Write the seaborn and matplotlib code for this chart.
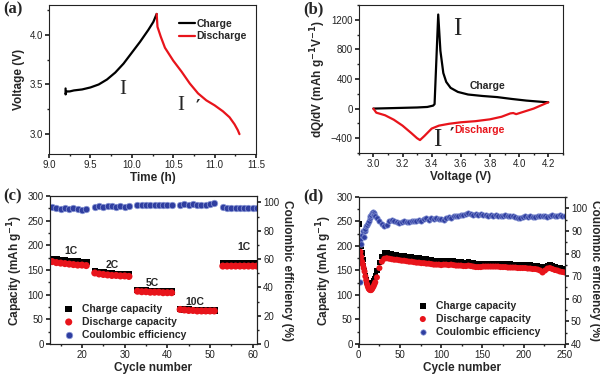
import numpy as np
import pandas as pd
import matplotlib
matplotlib.use("Agg")
import matplotlib.pyplot as plt
from matplotlib.ticker import MultipleLocator
import seaborn as sns

# (a) charge / discharge profile
a_charge_t = [9.20, 9.20, 9.21, 9.25, 9.30, 9.40, 9.50, 9.60, 9.70, 9.80, 9.90, 10.00, 10.10, 10.20, 10.26, 10.30]
a_charge_v = [3.46, 3.40, 3.43, 3.43, 3.44, 3.45, 3.47, 3.50, 3.55, 3.62, 3.71, 3.82, 3.93, 4.05, 4.13, 4.21]
a_dis_t = [10.30, 10.31, 10.35, 10.40, 10.50, 10.60, 10.70, 10.80, 10.90, 11.00, 11.10, 11.18, 11.24, 11.28, 11.30]
a_dis_v = [4.21, 4.08, 3.98, 3.87, 3.74, 3.63, 3.51, 3.41, 3.34, 3.29, 3.23, 3.17, 3.10, 3.04, 3.00]

# (b) dQ/dV
b_charge_x = [3.00, 3.10, 3.20, 3.30, 3.37, 3.41, 3.42, 3.445, 3.46, 3.48, 3.50, 3.53, 3.58, 3.65, 3.75, 3.85, 3.95, 4.05, 4.15, 4.20]
b_charge_y = [0, 5, 10, 15, 22, 40, 60, 1270, 780, 480, 360, 280, 225, 190, 170, 155, 130, 108, 92, 85]
b_dis_x = [3.00, 3.02, 3.08, 3.14, 3.20, 3.26, 3.30, 3.32, 3.35, 3.40, 3.45, 3.52, 3.60, 3.70, 3.80, 3.88, 3.94, 3.96, 3.98, 4.02, 4.10, 4.20]
b_dis_y = [0, -55, -90, -150, -230, -330, -400, -425, -370, -270, -230, -205, -185, -170, -145, -110, -65, -60, -75, -50, 0, 85]

# (c) rate capability
c_cycles = (list(range(13, 22)) + list(range(23, 32)) + list(range(33, 42))
            + list(range(43, 52)) + list(range(53, 62)))
c_charge = [172, 171, 170, 169, 168, 167, 167, 166, 166,
            148, 146, 145, 144, 143, 142, 142, 141, 141,
            109, 108, 108, 107, 107, 107, 106, 106, 106,
            71, 70, 70, 69, 69, 69, 68, 68, 68,
            163, 163, 163, 163, 163, 163, 163, 163, 163]
c_discharge = [167, 165, 164, 163, 162, 161, 160, 160, 159,
               144, 142, 141, 140, 139, 139, 138, 138, 137,
               107, 106, 106, 105, 105, 105, 104, 104, 104,
               70, 69, 68, 68, 67, 67, 67, 67, 67,
               158, 158, 158, 158, 158, 158, 158, 158, 158]
c_ce = [96.5, 96.3, 95.2, 96.0, 95.4, 95.8, 95.0, 94.8, 95.2,
        97.0, 97.2, 96.8, 97.3, 97.4, 97.0, 97.2, 96.8, 97.1,
        98.0, 98.1, 98.2, 98.0, 98.3, 98.1, 97.8, 98.2, 97.9,
        98.4, 98.6, 98.2, 98.8, 98.5, 97.9, 98.4, 98.9, 99.8,
        96.4, 96.1, 96.2, 96.0, 96.3, 96.1, 96.2, 96.0, 96.2]
c_rate_labels = ["1C", "2C", "5C", "10C", "1C"]
c_rate_x = [17.5, 27, 36.5, 46.5, 58]
c_rate_y = [189, 160, 123, 86, 196]

# (d) long cycling
d_cycles = list(range(1, 21)) + list(range(22, 251, 3))
d_charge = [245, 215, 200, 186, 172, 160, 150, 140, 132, 126, 121, 118, 117, 117, 118, 121, 125, 129, 134, 139,
            150, 166, 179, 186, 187, 185, 184, 183, 182, 181, 180, 180, 179, 178, 178, 177, 176, 176, 175, 174,
            174, 173, 172, 171, 171, 170, 170, 170, 170, 169, 170, 169, 168, 167, 167, 166, 166, 167, 166, 165,
            164, 164, 163, 163, 164, 164, 164, 164, 164, 164, 163, 163, 163, 163, 163, 162, 162, 162, 161, 161,
            161, 161, 161, 160, 160, 159, 158, 155, 157, 160, 161, 159, 157, 156, 155, 154, 152]
d_discharge = [185, 188, 178, 168, 162, 155, 148, 138, 130, 122, 117, 113, 111, 110, 110, 112, 115, 118, 122, 126,
               136, 155, 168, 174, 175, 174, 173, 172, 172, 171, 170, 170, 169, 168, 168, 167, 166, 166, 165, 165,
               164, 164, 163, 162, 162, 162, 161, 162, 162, 161, 162, 161, 160, 160, 160, 159, 159, 160, 159, 158,
               157, 157, 157, 158, 158, 158, 158, 158, 158, 158, 157, 157, 157, 156, 156, 156, 156, 155, 155, 155,
               155, 154, 154, 153, 153, 152, 150, 146, 150, 154, 155, 153, 151, 150, 148, 147, 146]
d_ce = [67.5, 86.0, 84.0, 88.0, 90.0, 87.5, 90.0, 91.0, 92.0, 92.5, 93.5, 94.5, 95.5, 96.5, 97.2, 97.8, 98.2, 97.8, 97.2, 96.6,
        95.6, 94.5, 93.2, 92.2, 92.6, 94.2, 95.0, 94.6, 94.0, 93.6, 93.9, 94.4, 93.8, 94.1, 94.6, 94.2, 94.5, 95.0, 94.6, 95.1,
        95.5, 95.0, 95.6, 95.2, 95.7, 95.1, 95.3, 95.0, 95.6, 96.0, 95.8, 96.4, 96.6, 96.8, 97.0, 97.2, 97.4, 97.9, 97.3, 97.1,
        97.5, 97.0, 97.3, 96.9, 97.1, 96.8, 97.0, 96.7, 96.9, 96.6, 96.8, 96.5, 96.9, 96.6, 96.4, 96.7, 96.2, 95.8, 95.6, 96.0,
        96.5, 96.2, 96.6, 96.3, 96.0, 96.5, 96.8, 96.4, 96.7, 96.3, 96.6, 96.9, 96.5, 96.8, 97.0, 96.6, 96.4]

sns.set_theme(style="ticks")
plt.rcParams["font.family"] = ["Liberation Sans", "DejaVu Sans"]
plt.rcParams["axes.linewidth"] = 0.8
plt.rcParams["xtick.direction"] = "out"
plt.rcParams["ytick.direction"] = "out"
plt.rcParams["xtick.major.size"] = 3
plt.rcParams["ytick.major.size"] = 3
plt.rcParams["xtick.minor.size"] = 1.6
plt.rcParams["ytick.minor.size"] = 1.6
plt.rcParams["xtick.labelsize"] = 7
plt.rcParams["ytick.labelsize"] = 7

RED = "#e8141b"
BLUE = "#2f3ea0"
SERIF = ["Liberation Serif", "DejaVu Serif"]

fig = plt.figure(figsize=(6, 3.76), dpi=100)
ax_a = fig.add_axes([0.0817, 0.5904, 0.345, 0.3963])
ax_b = fig.add_axes([0.598, 0.593, 0.34, 0.394])
ax_c = fig.add_axes([0.0833, 0.0851, 0.345, 0.3936])
ax_d = fig.add_axes([0.598, 0.0851, 0.3433, 0.391])


def style_ax(ax):
    for s in ax.spines.values():
        s.set_color("#222222")
    ax.tick_params(which="both", colors="#222222", pad=1.5)
    ax.tick_params(which="both", top=False, right=False)


# ---- (a)
da = pd.DataFrame({"t": a_charge_t, "v": a_charge_v})
dd = pd.DataFrame({"t": a_dis_t, "v": a_dis_v})
sns.lineplot(data=da, x="t", y="v", sort=False, estimator=None, color="black", lw=1.6, ax=ax_a, label="Charge")
sns.lineplot(data=dd, x="t", y="v", sort=False, estimator=None, color=RED, lw=1.6, ax=ax_a, label="Discharge")
ax_a.set_xlim(9.0, 11.5)
ax_a.set_ylim(2.8, 4.3)
ax_a.xaxis.set_major_locator(MultipleLocator(0.5))
ax_a.xaxis.set_minor_locator(MultipleLocator(0.25))
ax_a.yaxis.set_major_locator(MultipleLocator(0.5))
ax_a.yaxis.set_minor_locator(MultipleLocator(0.25))
ax_a.set_xlabel("Time (h)", fontsize=8.5, fontweight="bold", labelpad=1)
ax_a.set_ylabel("Voltage (V)", fontsize=8.5, fontweight="bold", labelpad=3)
ax_a.legend(loc="upper right", frameon=False, handlelength=1.6, handletextpad=0.1,
            labelspacing=0.25, prop={"weight": "bold", "size": 7.5}, bbox_to_anchor=(1.0, 0.97))
ax_a.text(9.89, 3.45, "I", family=SERIF, fontsize=15, ha="center", va="center")
ax_a.text(10.59, 3.29, "I", family=SERIF, fontsize=15, ha="center", va="center")
ax_a.text(10.80, 3.37, "\u2032", family=["DejaVu Sans"], fontsize=12, fontweight="bold", ha="center", va="top")
style_ax(ax_a)

# ---- (b)
dbc = pd.DataFrame({"x": b_charge_x, "y": b_charge_y})
dbd = pd.DataFrame({"x": b_dis_x, "y": b_dis_y})
sns.lineplot(data=dbc, x="x", y="y", sort=False, estimator=None, color="black", lw=1.6, ax=ax_b)
sns.lineplot(data=dbd, x="x", y="y", sort=False, estimator=None, color=RED, lw=1.6, ax=ax_b)
ax_b.set_xlim(2.9, 4.3)
ax_b.set_ylim(-600, 1400)
ax_b.xaxis.set_major_locator(MultipleLocator(0.2))
ax_b.xaxis.set_minor_locator(MultipleLocator(0.1))
ax_b.yaxis.set_major_locator(MultipleLocator(400))
ax_b.yaxis.set_minor_locator(MultipleLocator(200))
ax_b.set_xlabel("Voltage (V)", fontsize=8.5, fontweight="bold", labelpad=1)
ax_b.set_ylabel("dQ/dV (mAh g$^{\\mathbf{-1}}$V$^{\\mathbf{-1}}$)", fontsize=8.5, fontweight="bold", labelpad=2)
ax_b.text(3.575, 1080, "I", family=SERIF, fontsize=18, ha="center", va="center")
ax_b.text(3.78, 310, "Charge", fontsize=7.5, fontweight="bold", ha="center", va="center")
ax_b.text(3.73, -285, "Discharge", fontsize=7.5, fontweight="bold", color=RED, ha="center", va="center")
ax_b.text(3.44, -430, "I", family=SERIF, fontsize=18, ha="center", va="center")
ax_b.text(3.54, -350, "\u2032", family=["DejaVu Sans"], fontsize=12, fontweight="bold", ha="center", va="center")
style_ax(ax_b)


def cycling_panel(ax, x, chg, dis, ce, ms, legend_anchor):
    ax2 = ax.twinx()
    sns.scatterplot(x=x, y=chg, marker="s", s=ms, color="black", edgecolor="none", ax=ax, label="Charge capacity")
    sns.scatterplot(x=x, y=dis, marker="o", s=ms + 4, color=RED, edgecolor="none", ax=ax, label="Discharge capacity")
    sns.scatterplot(x=x, y=ce, marker="o", s=ms, color=BLUE, edgecolor="#8c9ad8", linewidth=0.5, ax=ax2,
                    label="Coulombic efficiency")
    h1, l1 = ax.get_legend_handles_labels()
    h2, l2 = ax2.get_legend_handles_labels()
    if ax2.get_legend() is not None:
        ax2.get_legend().remove()
    ax.legend(h1 + h2, l1 + l2, loc="lower left", bbox_to_anchor=legend_anchor, frameon=False,
              handletextpad=0.3, labelspacing=0.3, borderaxespad=0, markerscale=1.0,
              prop={"weight": "bold", "size": 7.5})
    ax.set_ylim(0, 300)
    ax.yaxis.set_major_locator(MultipleLocator(50))
    ax.yaxis.set_minor_locator(MultipleLocator(25))
    ax.set_xlabel("Cycle number", fontsize=8.5, fontweight="bold", labelpad=1)
    ax.set_ylabel("Capacity (mAh g$^{\\mathbf{-1}}$)", fontsize=8.5, fontweight="bold", labelpad=2)
    ax2.set_ylabel("Coulombic efficiency (%)", fontsize=8.5, fontweight="bold", rotation=270, labelpad=10)
    style_ax(ax)
    for s in ax2.spines.values():
        s.set_color("#222222")
    ax2.tick_params(which="both", colors="#222222", pad=1.5, right=True, left=False, top=False)
    return ax2


# ---- (c)
ax2_c = cycling_panel(ax_c, c_cycles, c_charge, c_discharge, c_ce, 22, (0.02, 0.0))
ax_c.set_xlim(12.5, 61)
ax_c.xaxis.set_major_locator(MultipleLocator(10))
ax_c.xaxis.set_minor_locator(MultipleLocator(5))
ax2_c.set_ylim(0, 104.5)
ax2_c.yaxis.set_major_locator(MultipleLocator(20))
ax2_c.yaxis.set_minor_locator(MultipleLocator(10))
for lab, x, y in zip(c_rate_labels, c_rate_x, c_rate_y):
    ax_c.text(x, y, lab, fontsize=7.5, fontweight="bold", ha="center", va="center")

# ---- (d)
ax2_d = cycling_panel(ax_d, d_cycles, d_charge, d_discharge, d_ce, 15, (0.24, 0.02))
ax_d.set_xlim(0, 250)
ax_d.xaxis.set_major_locator(MultipleLocator(50))
ax_d.xaxis.set_minor_locator(MultipleLocator(25))
ax2_d.set_ylim(40, 105)
ax2_d.yaxis.set_major_locator(MultipleLocator(10))
ax2_d.yaxis.set_minor_locator(MultipleLocator(5))

for lab, x, y in [("(a)", 0.005, 0.995), ("(b)", 0.505, 0.995), ("(c)", 0.005, 0.5), ("(d)", 0.505, 0.5)]:
    fig.text(x, y, lab, family=SERIF, fontsize=12, fontweight="bold", ha="left", va="top")

fig.savefig("out.png", dpi=100)
